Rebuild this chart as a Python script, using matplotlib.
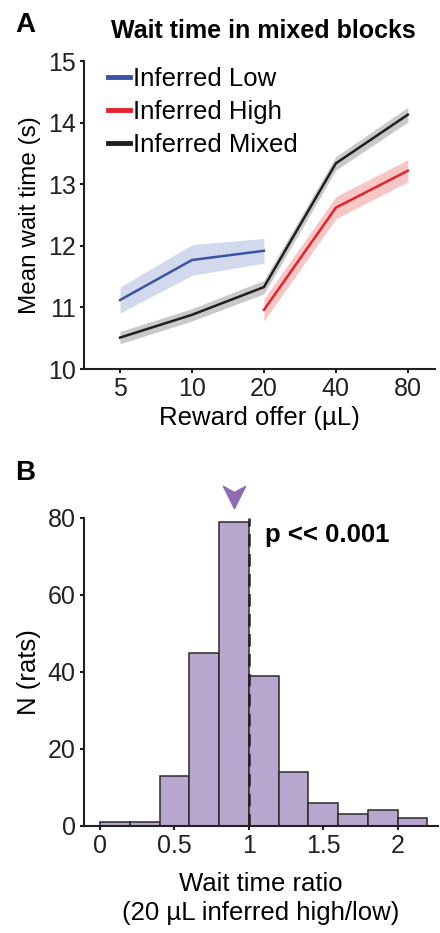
import matplotlib
matplotlib.use('Agg')
import matplotlib.pyplot as plt
import numpy as np
from matplotlib.path import Path

plt.rcParams['font.family'] = ['Liberation Sans', 'DejaVu Sans']

# panel A data
reward_labels = ['5', '10', '20', '40', '80']
low_x = [0, 1, 2]
low_mean = [11.12, 11.77, 11.92]
low_err = [0.21, 0.25, 0.20]
high_x = [2, 3, 4]
high_mean = [10.96, 12.62, 13.22]
high_err = [0.18, 0.18, 0.18]
mixed_x = [0, 1, 2, 3, 4]
mixed_mean = [10.51, 10.88, 11.33, 13.34, 14.13]
mixed_err = [0.10, 0.10, 0.11, 0.11, 0.12]

# panel B data
bin_edges = [0, 0.2, 0.4, 0.6, 0.8, 1.0, 1.2, 1.4, 1.6, 1.8, 2.0, 2.2]
counts = [1, 1, 13, 45, 79, 39, 14, 6, 3, 4, 2]
ratio_median = 0.9

BLUE = '#3a54a4'
RED = '#e8212a'
BLACK = '#231f20'
PURPLE = '#b9a6cf'
ARROW = '#8e6bb5'
FS = 18.5


def style(ax):
	for s in ['top', 'right']:
		ax.spines[s].set_visible(False)
	for s in ['left', 'bottom']:
		ax.spines[s].set_linewidth(1.5)
		ax.spines[s].set_color(BLACK)
	ax.tick_params(direction='out', length=3, width=1.5, pad=3, labelsize=18, colors=BLACK)
	for t in ax.get_xticklabels() + ax.get_yticklabels():
		t.set_color('#222222')


fig = plt.figure(figsize=(4.4, 9.33), dpi=100)

# ---- A
ax = fig.add_axes([0.191, 0.6045, 0.798, 0.330])
style(ax)
for xs, m, e, c, band, lab in [
		(low_x, low_mean, low_err, BLUE, '#d3d9ec', 'Inferred Low'),
		(high_x, high_mean, high_err, RED, '#f7c7c8', 'Inferred High'),
		(mixed_x, mixed_mean, mixed_err, BLACK, '#c9c9c9', 'Inferred Mixed')]:
	m = np.array(m)
	e = np.array(e)
	ax.fill_between(xs, m - e, m + e, color=band, lw=0)
	ax.plot(xs, m, color=c, lw=1.8, label=lab)
ax.set_xlim(-0.5, 4.38)
ax.set_ylim(10, 15)
ax.set_xticks(range(len(reward_labels)))
ax.set_xticklabels(reward_labels)
ax.set_yticks([10, 11, 12, 13, 14, 15])
ax.set_xlabel('Reward offer (µL)', fontsize=FS, labelpad=3)
ax.set_ylabel('Mean wait time (s)', fontsize=17.5, labelpad=5)
ax.set_title('Wait time in mixed blocks', fontsize=18, fontweight='bold', pad=17, x=0.51)
leg = ax.legend(loc='upper left', bbox_to_anchor=(0.04, 1.015), frameon=False, fontsize=FS,
	handlelength=0.85, handletextpad=0.12, labelspacing=0.36, borderaxespad=0)
for h in leg.get_lines():
	h.set_linewidth(3.5)
fig.text(0.035, 0.966, 'A', fontsize=20, fontweight='bold')

# ---- B
bx = fig.add_axes([0.191, 0.115, 0.804, 0.330])
style(bx)
widths = np.diff(bin_edges)
bx.bar(bin_edges[:-1], counts, width=widths, align='edge', color=PURPLE,
	edgecolor='#2a2a2a', linewidth=1.1)
bx.plot([1, 1], [0, 80], color=BLACK, lw=1.8, ls=(0, (5, 3)))
arrow = Path([(-1, 1), (0, -1), (1, 1), (0, 0.45), (-1, 1)],
	[Path.MOVETO, Path.LINETO, Path.LINETO, Path.LINETO, Path.CLOSEPOLY])
bx.plot([ratio_median], [85.5], marker=arrow, markersize=16, color=ARROW, clip_on=False)
bx.text(1.11, 75.5, 'p << 0.001', fontsize=18.5, fontweight='bold', va='center')
bx.set_xlim(-0.108, 2.27)
bx.set_ylim(0, 80)
bx.set_xticks([0, 0.5, 1, 1.5, 2])
bx.set_xticklabels(['0', '0.5', '1', '1.5', '2'])
bx.set_yticks([0, 20, 40, 60, 80])
bx.set_xlabel('Wait time ratio\n(20 µL inferred high/low)', fontsize=FS, labelpad=10,
	linespacing=1.25)
bx.set_ylabel('N (rats)', fontsize=18.5, labelpad=5)
fig.text(0.035, 0.485, 'B', fontsize=20, fontweight='bold')

fig.savefig('out.png', dpi=100)
